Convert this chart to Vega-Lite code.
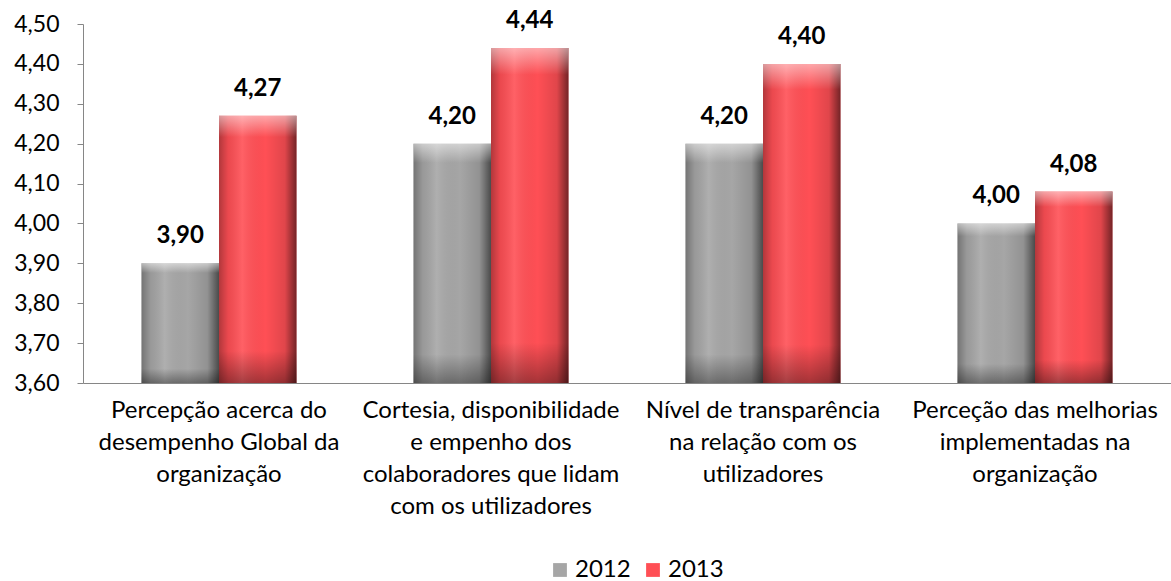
{
  "$schema": "https://vega.github.io/schema/vega-lite/v6.json",
  "width": 1088,
  "height": 359,
  "autosize": {"type": "none"},
  "padding": {"left": 83, "top": 24, "right": 0, "bottom": 198},
  "config": {
    "locale": {"number": {"decimal": ",", "thousands": ".", "grouping": [3], "currency": ["€", ""]}},
    "view": {"stroke": null},
    "font": "Lato"
  },
  "data": {
    "values": [
      {"category": "Percepção acerca do|desempenho Global da|organização", "year": "2012", "value": 3.90},
      {"category": "Percepção acerca do|desempenho Global da|organização", "year": "2013", "value": 4.27},
      {"category": "Cortesia, disponibilidade|e empenho dos|colaboradores que lidam|com os utilizadores", "year": "2012", "value": 4.20},
      {"category": "Cortesia, disponibilidade|e empenho dos|colaboradores que lidam|com os utilizadores", "year": "2013", "value": 4.44},
      {"category": "Nível de transparência|na relação com os|utilizadores", "year": "2012", "value": 4.20},
      {"category": "Nível de transparência|na relação com os|utilizadores", "year": "2013", "value": 4.40},
      {"category": "Perceção das melhorias|implementadas na|organização", "year": "2012", "value": 4.00},
      {"category": "Perceção das melhorias|implementadas na|organização", "year": "2013", "value": 4.08}
    ]
  },
  "encoding": {
    "x": {
      "field": "category",
      "type": "nominal",
      "sort": null,
      "scale": {"paddingInner": 0.43, "paddingOuter": 0.215},
      "axis": {
        "title": null,
        "labelAngle": 0,
        "labelExpr": "split(datum.label, '|')",
        "labelFontSize": 24,
        "labelLineHeight": 32,
        "labelColor": "#000000",
        "labelPadding": 15,
        "labelLimit": 400,
        "ticks": false,
        "domainColor": "#868686",
        "domainWidth": 1
      }
    },
    "xOffset": {"field": "year", "type": "nominal", "scale": {"paddingInner": 0}},
    "y": {
      "field": "value",
      "type": "quantitative",
      "scale": {"domain": [3.6, 4.5], "nice": false, "zero": false},
      "axis": {
        "title": null,
        "values": [3.6, 3.7, 3.8, 3.9, 4.0, 4.1, 4.2, 4.3, 4.4, 4.5],
        "format": ".2f",
        "grid": false,
        "labelFontSize": 23,
        "labelColor": "#000000",
        "labelPadding": 18,
        "tickSize": 6,
        "tickColor": "#868686",
        "domainColor": "#868686"
      }
    }
  },
  "layer": [
    {
      "mark": {"type": "bar"},
      "encoding": {
        "y2": {"datum": 3.6},
        "color": {
          "field": "year",
          "type": "nominal",
          "scale": {"domain": ["2012", "2013"], "range": ["#a6a6a6", "#ff4f55"]},
          "legend": {
            "title": null,
            "orient": "none",
            "legendX": 465,
            "legendY": 534,
            "direction": "horizontal",
            "symbolType": "square",
            "symbolSize": 190,
            "symbolStrokeWidth": 0,
            "labelFontSize": 24,
            "labelColor": "#000000",
            "columnPadding": 10,
            "labelOffset": 3
          }
        }
      }
    },
    {
      "mark": {
        "type": "bar",
        "fill": {
          "gradient": "linear",
          "x1": 0, "y1": 0, "x2": 1, "y2": 0,
          "stops": [
            {"offset": 0, "color": "rgba(0,0,0,0.3)"},
            {"offset": 0.12, "color": "rgba(0,0,0,0.08)"},
            {"offset": 0.3, "color": "rgba(255,255,255,0.1)"},
            {"offset": 0.6, "color": "rgba(0,0,0,0)"},
            {"offset": 0.85, "color": "rgba(0,0,0,0.12)"},
            {"offset": 1, "color": "rgba(0,0,0,0.55)"}
          ]
        }
      },
      "encoding": {"y2": {"datum": 3.6}}
    },
    {
      "mark": {
        "type": "bar",
        "fill": {
          "gradient": "linear",
          "x1": 0, "y1": 0, "x2": 0, "y2": 1,
          "stops": [
            {"offset": 0, "color": "rgba(255,255,255,0.5)"},
            {"offset": 0.08, "color": "rgba(255,255,255,0.0)"},
            {"offset": 0.88, "color": "rgba(0,0,0,0)"},
            {"offset": 1, "color": "rgba(0,0,0,0.35)"}
          ]
        }
      },
      "encoding": {"y2": {"datum": 3.6}}
    },
    {
      "mark": {"type": "text", "baseline": "alphabetic", "dy": -20, "fontWeight": "bold", "fontSize": 24, "color": "#000000"},
      "encoding": {"text": {"field": "value", "type": "quantitative", "format": ".2f"}}
    }
  ]
}
